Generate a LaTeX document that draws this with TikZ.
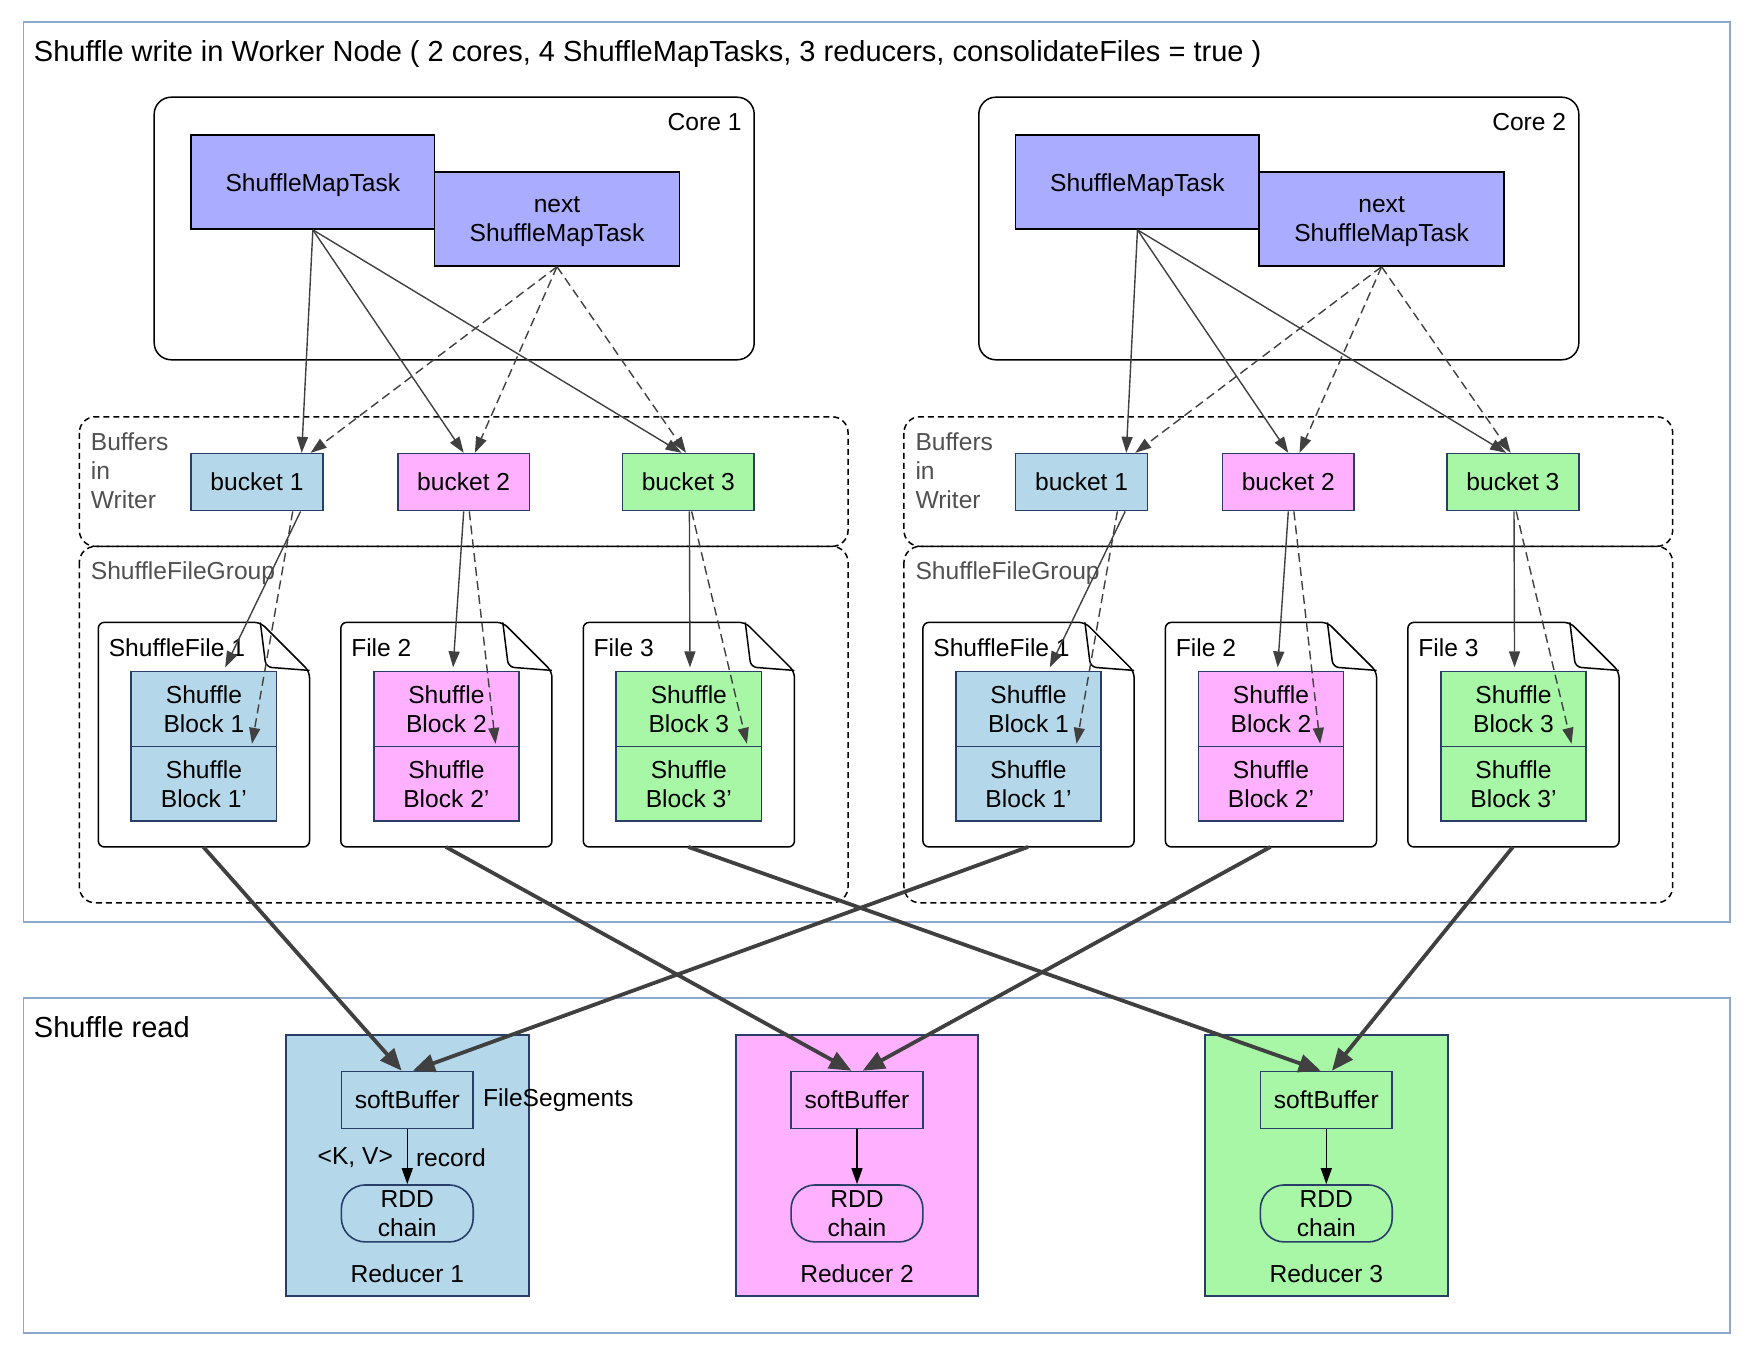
\documentclass[tikz,border=0pt]{standalone}
\usepackage{fontspec}
\setmainfont{Liberation Sans}
\usetikzlibrary{arrows.meta,calc}
\definecolor{taskc}{RGB}{170,173,255}
\definecolor{bluec}{RGB}{180,216,234}
\definecolor{pinkc}{RGB}{255,176,255}
\definecolor{greenc}{RGB}{167,247,167}
\definecolor{boxc}{RGB}{40,62,104}
\definecolor{framec}{RGB}{140,168,204}
\definecolor{arrowc}{RGB}{64,64,64}
\definecolor{labelc}{RGB}{80,80,80}
\def\pxu{0.55865pt}

\begin{document}
\begin{tikzpicture}[x=\pxu,y=-\pxu,
    txt/.style={font=\fontsize{12.3}{14.5}\selectfont, align=center, inner sep=0pt},
    box/.style={txt, draw=boxc, line width=0.8pt},
    task/.style={box, draw=black, fill=taskc, minimum width=218*\pxu, minimum height=84*\pxu, text depth=0pt},
    bucket/.style={box, minimum width=118*\pxu, minimum height=51*\pxu},
    block/.style={box, minimum width=130*\pxu, minimum height=67*\pxu},
    grp/.style={draw=black, line width=0.75pt, dash pattern=on 3pt off 2pt, rounded corners=8pt},
    frame/.style={draw=framec, line width=0.9pt},
    arr/.style={draw=arrowc, line width=0.7pt, -{Triangle[length=8pt,width=5.5pt]}},
    darr/.style={arr, dash pattern=on 4.5pt off 2.5pt},
    bigarr/.style={draw=arrowc, line width=1.9pt, -{Triangle[length=11pt,width=9pt]}},
    title/.style={font=\fontsize{14.5}{17}\selectfont, inner sep=0pt, anchor=west},
    graytxt/.style={txt, text=labelc, align=left}]
    \useasboundingbox (0,0) rectangle (1568,1215.4);

    % shuffle write
    \draw[frame] (21,20) rectangle (1548,825);
    \node[title] (wtitle) at (30,48.5) {Shuffle write in Worker Node ( 2 cores, 4 ShuffleMapTasks, 3 reducers, consolidateFiles = true )};

    \foreach \o/\k in {0/1,738/2}{
        \draw[line width=0.75pt, rounded corners=8.5pt] (138+\o,87) rectangle (675+\o,322);
        \node[txt, anchor=east] (core\k) at (664+\o,109) {Core \k};
        \node[task] (t\k) at (280+\o,163) {ShuffleMapTask};
        \node[task, minimum width=219*\pxu] (n\k) at (498.5+\o,196) {next\\ShuffleMapTask};

        \draw[grp] (71+\o,373) rectangle (759+\o,489);
        \node[graytxt, anchor=north west] (buf\k) at (81+\o,387) {Buffers\\in\\Writer};
        \node[bucket, fill=bluec] (b\k-1) at (230+\o,431.5) {bucket 1};
        \node[bucket, fill=pinkc] (b\k-2) at (415+\o,431.5) {bucket 2};
        \node[bucket, fill=greenc] (b\k-3) at (616+\o,431.5) {bucket 3};

        \draw[grp] (71+\o,489) rectangle (759+\o,808);
        \node[graytxt, anchor=west] (sfg\k) at (81+\o,512.5) {ShuffleFileGroup};
        \foreach \l/\j/\c/\fname in {88/1/bluec/ShuffleFile 1,305/2/pinkc/File 2,522/3/greenc/File 3}{
            \draw[line width=0.75pt, rounded corners=3pt, fill=white] (\l+\o,557) -- (\l+\o+145,557)
                -- (\l+\o+189,601) -- (\l+\o+189,758) -- (\l+\o,758) -- cycle;
            \draw[line width=0.75pt, rounded corners=3pt] (\l+\o+145,557) -- (\l+\o+150,597) -- (\l+\o+189,600);
            \node[txt, anchor=west] (fl\k-\j) at (\l+\o+9,579.5) {\fname};
            \node[block, fill=\c] (sb\k-\j) at (\l+\o+94.5,634.5) {Shuffle\\Block \j};
            \node[block, fill=\c] (sbp\k-\j) at (\l+\o+94.5,701.5) {Shuffle\\Block \j’};
            \coordinate (f\k-\j) at (\l+\o+94,758);
        }

        \draw[arr] (t\k.south) -- ($(b\k-1.north)+(40,0)$);
        \draw[arr] (t\k.south) -- (b\k-2.north);
        \draw[arr] (t\k.south) -- ($(b\k-3.north)+(-6,0)$);
        \draw[darr] (n\k.south) -- ($(b\k-1.north)+(48,0)$);
        \draw[darr] (n\k.south) -- ($(b\k-2.north)+(10,0)$);
        \draw[darr] (n\k.south) -- ($(b\k-3.north)+(-2,0)$);

        \draw[arr] ($(b\k-1.south)+(39,0)$) -- ($(sb\k-1.north)+(19,-3)$);
        \draw[darr] ($(b\k-1.south)+(32,0)$) -- ($(sb\k-1.south)+(43,-3)$);
        \draw[arr] (b\k-2.south) -- ($(sb\k-2.north)+(6,-3)$);
        \draw[darr] ($(b\k-2.south)+(5,0)$) -- ($(sb\k-2.south)+(44,-3)$);
        \draw[arr] ($(b\k-3.south)+(1,0)$) -- ($(sb\k-3.north)+(1,-3)$);
        \draw[darr] ($(b\k-3.south)+(3,0)$) -- ($(sb\k-3.south)+(52,-3)$);
    }

    % shuffle read
    \draw[frame] (21,893) rectangle (1548,1193);
    \node[title] (rtitle) at (30,919.5) {Shuffle read};
    \foreach \x/\j/\c in {364.5/1/bluec,767/2/pinkc,1187/3/greenc}{
        \node[box, fill=\c, line width=1pt, minimum width=217*\pxu, minimum height=234*\pxu] (r\j) at (\x,1043) {};
        \node[box, fill=\c, minimum width=118*\pxu, minimum height=51*\pxu] (soft\j) at (\x,984.5) {softBuffer};
        \node[box, fill=\c, minimum width=118*\pxu, minimum height=51*\pxu, rounded corners=12pt] (rdd\j) at (\x,1086) {RDD\\chain};
        \node[txt] (rl\j) at (\x,1139.5) {Reducer \j};
        \draw[line width=0.7pt, -{Triangle[length=8pt,width=5.5pt]}] (soft\j) -- (rdd\j);
    }
    \node[txt, anchor=west] (fseg) at (432,984.5) {FileSegments};
    \node[txt, anchor=east] (kv) at (352,1036) {<K, V>};
    \node[txt, anchor=west] (rec) at (372,1036) {record};

    \draw[bigarr] (f1-1) -- ($(soft1.north)+(-5,0)$);
    \draw[bigarr] (f1-2) -- ($(soft2.north)+(-5,0)$);
    \draw[bigarr] (f1-3) -- ($(soft3.north)+(-5,0)$);
    \draw[bigarr] (f2-1) -- ($(soft1.north)+(5,0)$);
    \draw[bigarr] (f2-2) -- ($(soft2.north)+(5,0)$);
    \draw[bigarr] (f2-3) -- ($(soft3.north)+(5,0)$);
\end{tikzpicture}
\end{document}
